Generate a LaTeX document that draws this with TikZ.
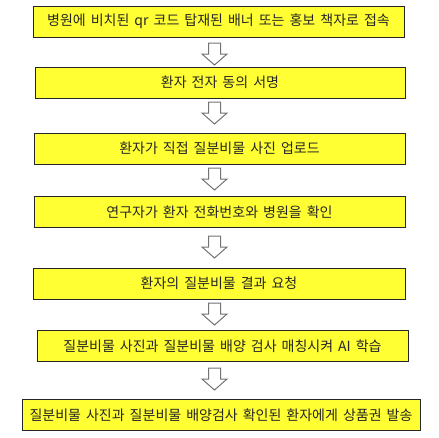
\documentclass[tikz,border=0pt]{standalone}
\usepackage{fontspec}
\newfontfamily\kr[WordSpace=1.6]{Noto Sans CJK KR}
\definecolor{flowyellow}{RGB}{255,255,51}

\begin{document}
\begin{tikzpicture}[x=1pt,y=-1pt,
  every node/.style={align=center},
  flowbox/.style={draw=black!85,line width=1pt,fill=flowyellow,minimum height=31pt,
    inner sep=0pt,font=\kr\fontsize{14}{16}\selectfont,text=black!85},
  downarr/.style={draw=black!55,fill=white,line width=1pt,line join=miter}]
\useasboundingbox (0,0) rectangle (439,437);
\node[flowbox,minimum width=371pt] (step1) at (218.5,21.5) {병원에 비치된 qr 코드 탑재된 배너 또는 홍보 책자로 접속};
\node[flowbox,minimum width=370pt] (step2) at (220,82.5) {환자 전자 동의 서명};
\node[flowbox,minimum width=371pt] (step3) at (219.5,148.5) {환자가 직접 질분비물 사진 업로드};
\node[flowbox,minimum width=371pt] (step4) at (219.5,212) {연구자가 환자 전화번호와 병원을 확인};
\node[flowbox,minimum width=372pt] (step5) at (219,283.5) {환자의 질분비물 결과 요청};
\node[flowbox,minimum width=371pt] (step6) at (222.5,346) {질분비물 사진과 질분비물 배양 검사 매칭시켜 AI 학습};
\node[flowbox,minimum width=398pt] (step7) at (221,415) {질분비물 사진과 질분비물 배양검사 확인된 환자에게 상품권 발송};
\foreach \y in {43,102,168,236,303,368}
  \draw[downarr] (208.5,\y) -- (220.5,\y) -- (220.5,\y+11) -- (227,\y+11) -- (214.5,\y+22)
    -- (202,\y+11) -- (208.5,\y+11) -- cycle;
\end{tikzpicture}
\end{document}
